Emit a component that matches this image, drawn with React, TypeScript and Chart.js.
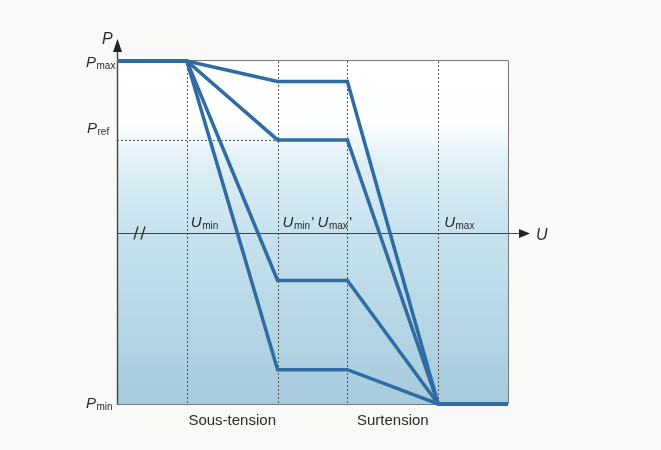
import React, { useEffect, useRef } from "react";
import { Chart, registerables } from "chart.js";

Chart.register(...registerables);

// U positions (arbitrary units along the voltage axis)
const uStart = 0;
const uMin = 1;
const uMinPrime = 2.3;
const uMaxPrime = 3.3;
const uMax = 4.6;
const uEnd = 5.6;

// P levels
const pMin = 0;
const pAxis = 50;
const pRef = 77;
const pMax = 100;

// plateau power of each curve between Umin' and Umax'
const plateaus = [94, 77, 36, 10];

const guideUs = [uMin, uMinPrime, uMaxPrime, uMax];

const LINE = "#2f6ca3";
const AXIS = "#444";
const TXT = "#2a2a2a";

function drawSub(ctx: CanvasRenderingContext2D, main: string, sub: string, x: number, y: number, prime = "") {
  ctx.fillStyle = TXT;
  ctx.textAlign = "left";
  ctx.textBaseline = "alphabetic";
  ctx.font = "italic 15px 'Liberation Sans', Arial, sans-serif";
  ctx.fillText(main, x, y);
  const w = ctx.measureText(main).width;
  ctx.font = "10px 'Liberation Sans', Arial, sans-serif";
  ctx.fillText(sub, x + w + 0.5, y + 2);
  const w2 = ctx.measureText(sub).width;
  if (prime) {
    ctx.font = "15px 'Liberation Sans', Arial, sans-serif";
    ctx.fillText(prime, x + w + w2 + 2, y);
  }
}

const overlay = {
  id: "overlay",
  beforeDatasetsDraw(chart: any) {
    const ctx: CanvasRenderingContext2D = chart.ctx;
    const xs = chart.scales.x;
    const ys = chart.scales.y;
    const l = xs.getPixelForValue(uStart);
    const r = xs.getPixelForValue(uEnd);
    const t = ys.getPixelForValue(pMax);
    const b = ys.getPixelForValue(pMin);
    ctx.save();
    const g = ctx.createLinearGradient(0, t, 0, b);
    g.addColorStop(0, "#ffffff");
    g.addColorStop(0.18, "#fcfeff");
    g.addColorStop(0.3, "#dfeff6");
    g.addColorStop(0.5, "#c7e2ee");
    g.addColorStop(1, "#a6cbdc");
    ctx.fillStyle = g;
    ctx.fillRect(l, t, r - l, b - t);

    // dashed guides
    ctx.strokeStyle = "#555";
    ctx.lineWidth = 1;
    ctx.setLineDash([2, 2]);
    for (const u of guideUs) {
      const x = Math.round(xs.getPixelForValue(u)) + 0.5;
      ctx.beginPath();
      ctx.moveTo(x, t);
      ctx.lineTo(x, b);
      ctx.stroke();
    }
    const yr = Math.round(ys.getPixelForValue(pRef)) + 0.5;
    ctx.beginPath();
    ctx.moveTo(l, yr);
    ctx.lineTo(xs.getPixelForValue(uMinPrime), yr);
    ctx.stroke();
    ctx.setLineDash([]);

    // top and right border
    ctx.strokeStyle = "#777";
    ctx.lineWidth = 1;
    ctx.beginPath();
    ctx.moveTo(l, Math.round(t) - 0.5);
    ctx.lineTo(Math.round(r) + 0.5, Math.round(t) - 0.5);
    ctx.lineTo(Math.round(r) + 0.5, b);
    ctx.stroke();

    // bottom line
    ctx.beginPath();
    ctx.moveTo(l, Math.round(b) + 0.5);
    ctx.lineTo(r, Math.round(b) + 0.5);
    ctx.stroke();

    // U axis
    const ya = Math.round(ys.getPixelForValue(pAxis)) + 0.5;
    ctx.strokeStyle = AXIS;
    ctx.lineWidth = 1.2;
    ctx.beginPath();
    ctx.moveTo(l, ya);
    ctx.lineTo(r + 14, ya);
    ctx.stroke();
    ctx.fillStyle = "#222";
    ctx.beginPath();
    ctx.moveTo(r + 22, ya);
    ctx.lineTo(r + 11, ya - 4.5);
    ctx.lineTo(r + 11, ya + 4.5);
    ctx.closePath();
    ctx.fill();

    // break marks
    ctx.lineWidth = 1.4;
    ctx.strokeStyle = "#333";
    ctx.beginPath();
    ctx.moveTo(l + 17, ya + 6);
    ctx.lineTo(l + 21, ya - 7);
    ctx.moveTo(l + 24, ya + 6);
    ctx.lineTo(l + 28, ya - 7);
    ctx.stroke();

    // P axis
    const xl = Math.round(l) + 0.5;
    ctx.strokeStyle = AXIS;
    ctx.lineWidth = 1.4;
    ctx.beginPath();
    ctx.moveTo(xl, b + 0.5);
    ctx.lineTo(xl, t - 10);
    ctx.stroke();
    ctx.fillStyle = "#222";
    ctx.beginPath();
    ctx.moveTo(xl, t - 22);
    ctx.lineTo(xl - 4.5, t - 9);
    ctx.lineTo(xl + 4.5, t - 9);
    ctx.closePath();
    ctx.fill();
    ctx.restore();
  },
  afterDraw(chart: any) {
    const ctx: CanvasRenderingContext2D = chart.ctx;
    const xs = chart.scales.x;
    const ys = chart.scales.y;
    const l = xs.getPixelForValue(uStart);
    const r = xs.getPixelForValue(uEnd);
    const b = ys.getPixelForValue(pMin);
    const ya = ys.getPixelForValue(pAxis);
    ctx.save();
    // axis names
    ctx.fillStyle = TXT;
    ctx.font = "italic 16px 'Liberation Sans', Arial, sans-serif";
    ctx.textAlign = "left";
    ctx.fillText("P", l - 15, ys.getPixelForValue(pMax) - 17);
    ctx.fillText("U", r + 28, ya + 7);

    // P labels
    drawSub(ctx, "P", "max", l - 31, ys.getPixelForValue(pMax) + 6);
    drawSub(ctx, "P", "ref", l - 30, ys.getPixelForValue(pRef) - 7);
    drawSub(ctx, "P", "min", l - 31, ys.getPixelForValue(pMin) + 4);

    // U labels
    drawSub(ctx, "U", "min", xs.getPixelForValue(uMin) + 4, ya - 6);
    drawSub(ctx, "U", "min", xs.getPixelForValue(uMinPrime) + 5, ya - 6, "'");
    drawSub(ctx, "U", "max", xs.getPixelForValue(uMinPrime) + 40, ya - 6, "'");
    drawSub(ctx, "U", "max", xs.getPixelForValue(uMax) + 6, ya - 6);

    // zone labels
    ctx.fillStyle = TXT;
    ctx.font = "15px 'Liberation Sans', Arial, sans-serif";
    ctx.textAlign = "center";
    ctx.fillText("Sous-tension", (xs.getPixelForValue(uMin) + xs.getPixelForValue(uMinPrime)) / 2, b + 21);
    ctx.fillText("Surtension", (xs.getPixelForValue(uMaxPrime) + xs.getPixelForValue(uMax)) / 2, b + 21);
    ctx.restore();
  },
};

export default function App() {
  const ref = useRef<HTMLCanvasElement | null>(null);
  useEffect(() => {
    if (!ref.current) return;
    const datasets = plateaus.map((p) => ({
      data: [
        { x: uStart, y: pMax },
        { x: uMin, y: pMax },
        { x: uMinPrime, y: p },
        { x: uMaxPrime, y: p },
        { x: uMax, y: pMin },
        { x: uEnd, y: pMin },
      ],
      showLine: true,
      borderColor: LINE,
      backgroundColor: LINE,
      borderWidth: 3.5,
      pointRadius: 0,
      borderJoinStyle: "miter" as const,
      clip: false as any,
      fill: false,
    }));
    const chart = new Chart(ref.current, {
      type: "scatter",
      data: { datasets },
      options: {
        animation: false,
        responsive: false,
        layout: { padding: { left: 117, right: 153, top: 61, bottom: 46 } },
        plugins: { legend: { display: false }, tooltip: { enabled: false } },
        scales: {
          x: { type: "linear", min: uStart, max: uEnd, display: false },
          y: { type: "linear", min: pMin, max: pMax, display: false },
        },
      },
      plugins: [overlay as any],
    });
    return () => chart.destroy();
  }, []);
  return (
    <div style={{ position: "fixed", left: 0, top: 0, width: 661, height: 450, background: "#f9f9f7" }}>
      <canvas ref={ref} width={661} height={450} style={{ width: 661, height: 450, display: "block" }} />
    </div>
  );
}
